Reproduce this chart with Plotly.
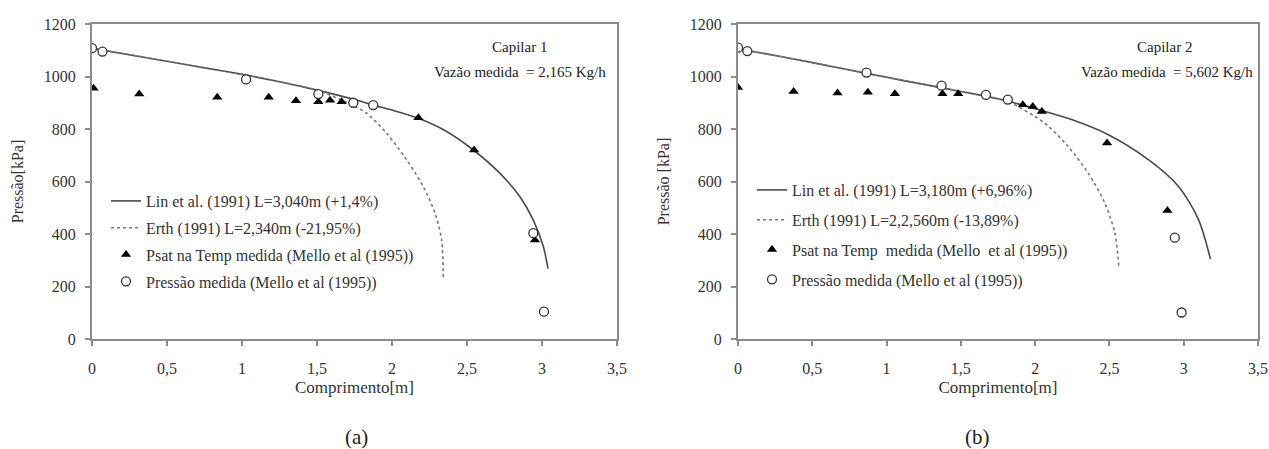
import plotly.graph_objects as go

# ---------------- data ----------------
x_ticks = [0, 0.5, 1, 1.5, 2, 2.5, 3, 3.5]
x_tick_labels = ["0", "0,5", "1", "1,5", "2", "2,5", "3", "3,5"]
y_ticks = [0, 200, 400, 600, 800, 1000, 1200]
y_tick_labels = ["0", "200", "400", "600", "800", "1000", "1200"]

series_names_a = [
    "Lin et al. (1991) L=3,040m (+1,4%)",
    "Erth (1991) L=2,340m (-21,95%)",
    "Psat na Temp medida (Mello et al (1995))",
    "Pressão medida (Mello et al (1995))",
]
series_names_b = [
    "Lin et al. (1991) L=3,180m (+6,96%)",
    "Erth (1991) L=2,2,560m (-13,89%)",
    "Psat na Temp  medida (Mello  et al (1995))",
    "Pressão medida (Mello et al (1995))",
]

# Panel (a) - Capilar 1
a_lin_x = [0, 0.25, 0.5, 0.75, 1.0, 1.25, 1.5, 1.75, 1.875, 2.0, 2.176, 2.35, 2.542, 2.72, 2.853, 2.942, 3.009, 3.04]
a_lin_y = [1107, 1083, 1058, 1033, 1008, 980, 948, 912, 891, 872, 841, 795, 720, 631, 542, 453, 352, 268]
a_erth_x = [0, 0.25, 0.5, 0.75, 1.0, 1.25, 1.5, 1.709, 1.831, 1.964, 2.098, 2.209, 2.287, 2.331, 2.342]
a_erth_y = [1107, 1083, 1058, 1033, 1008, 980, 948, 898, 860, 784, 682, 580, 479, 377, 225]
a_psat_x = [0.01, 0.315, 0.835, 1.178, 1.36, 1.509, 1.587, 1.664, 2.176, 2.547, 2.953]
a_psat_y = [955, 933, 921, 921, 908, 904, 910, 904, 843, 720, 377]
a_pres_x = [0.0, 0.07, 1.027, 1.509, 1.742, 1.875, 2.942, 3.013]
a_pres_y = [1108, 1095, 989, 933, 900, 891, 403, 104]

# Panel (b) - Capilar 2
b_lin_x = [0, 0.25, 0.5, 0.75, 1.0, 1.25, 1.5, 1.75, 2.04, 2.25, 2.49, 2.76, 2.964, 3.099, 3.18]
b_lin_y = [1105, 1080, 1053, 1025, 997, 970, 943, 915, 871, 835, 779, 684, 582, 456, 305]
b_erth_x = [0, 0.25, 0.5, 0.75, 1.0, 1.25, 1.5, 1.75, 1.838, 2.063, 2.221, 2.356, 2.468, 2.536, 2.563]
b_erth_y = [1105, 1080, 1053, 1025, 997, 970, 943, 915, 899, 823, 734, 633, 519, 405, 278]
b_psat_x = [0.0, 0.374, 0.67, 0.874, 1.056, 1.376, 1.482, 1.917, 1.984, 2.045, 2.484, 2.89]
b_psat_y = [958, 943, 937, 940, 934, 934, 934, 892, 886, 867, 747, 490]
b_pres_x = [0.0, 0.063, 0.865, 1.37, 1.669, 1.816, 2.94, 2.986]
b_pres_y = [1110, 1097, 1015, 965, 930, 912, 386, 101]

# ---------------- figure ----------------
FONT = "Liberation Serif"
TXT = "#333333"
AXC = "#8c8c8c"

fig = go.Figure()

def add_panel(xa, ya, leg, names, lin, erth, psat, pres):
    fig.add_trace(go.Scatter(x=lin[0], y=lin[1], mode="lines", name=names[0],
                             line=dict(color="#4a4a4a", width=1.6, shape="spline", smoothing=0.8),
                             xaxis=xa, yaxis=ya, legend=leg, legendgroup=leg + "1"))
    fig.add_trace(go.Scatter(x=erth[0], y=erth[1], mode="lines", name=names[1],
                             line=dict(color="#777777", width=1.6, dash="dot", shape="spline", smoothing=0.8),
                             xaxis=xa, yaxis=ya, legend=leg, legendgroup=leg + "2"))
    fig.add_trace(go.Scatter(x=psat[0], y=psat[1], mode="markers", name=names[2],
                             marker=dict(symbol="triangle-up", size=9, color="black"),
                             xaxis=xa, yaxis=ya, legend=leg, legendgroup=leg + "3"))
    fig.add_trace(go.Scatter(x=pres[0], y=pres[1], mode="markers", name=names[3],
                             marker=dict(symbol="circle", size=9, color="white",
                                         line=dict(color="#333333", width=1.3)),
                             xaxis=xa, yaxis=ya, legend=leg, legendgroup=leg + "4"))

add_panel("x", "y", "legend", series_names_a,
          (a_lin_x, a_lin_y), (a_erth_x, a_erth_y), (a_psat_x, a_psat_y), (a_pres_x, a_pres_y))
add_panel("x2", "y2", "legend2", series_names_b,
          (b_lin_x, b_lin_y), (b_erth_x, b_erth_y), (b_psat_x, b_psat_y), (b_pres_x, b_pres_y))

W, H = 1269, 449

def xaxis(dom, title):
    return dict(domain=dom, range=[0, 3.5], tickvals=x_ticks, ticktext=x_tick_labels,
                automargin=False,
                showgrid=False, zeroline=False, showline=True, linecolor=AXC, linewidth=2,
                mirror=True, ticks="outside", ticklen=5, tickcolor=AXC, tickwidth=1.5,
                tickfont=dict(family=FONT, size=16, color=TXT), ticklabelstandoff=9,
                title=dict(text=title, font=dict(family=FONT, size=17, color=TXT), standoff=5))

def yaxis(dom, anchor, title, standoff):
    return dict(domain=dom, range=[0, 1200], tickvals=y_ticks, ticktext=y_tick_labels,
                automargin=False,
                anchor=anchor, showgrid=False, zeroline=False, showline=True, linecolor=AXC,
                linewidth=2, mirror=True, ticks="outside", ticklen=5, tickcolor=AXC, tickwidth=1.5,
                tickfont=dict(family=FONT, size=16, color=TXT), ticklabelstandoff=6,
                title=dict(text=title, font=dict(family=FONT, size=16, color=TXT), standoff=standoff))

ydom = [1 - 339 / H, 1 - 24 / H]
fig.update_layout(
    width=W, height=H,
    margin=dict(l=0, r=0, t=0, b=0, autoexpand=False),
    paper_bgcolor="white", plot_bgcolor="white",
    xaxis=xaxis([92 / W, 617 / W], "Comprimento[m]"),
    yaxis=yaxis(ydom, "x", "Pressão[kPa]", 16),
    xaxis2=dict(xaxis([738 / W, 1258 / W], "Comprimento[m]"), anchor="y2"),
    yaxis2=yaxis(ydom, "x2", "Pressão [kPa]", 16),
    legend=dict(x=106 / W, y=1 - 184 / H, xanchor="left", yanchor="top",
                bgcolor="rgba(0,0,0,0)", font=dict(family=FONT, size=16, color=TXT),
                tracegroupgap=3, itemwidth=30),
    legend2=dict(x=752 / W, y=1 - 173 / H, xanchor="left", yanchor="top",
                 bgcolor="rgba(0,0,0,0)", font=dict(family=FONT, size=16, color=TXT),
                 tracegroupgap=6, itemwidth=30),
    showlegend=True,
)

ann = [
    dict(text="Capilar 1", x=519 / W, y=1 - 47 / H, size=15),
    dict(text="Vazão medida  = 2,165 Kg/h", x=520 / W, y=1 - 72 / H, size=15),
    dict(text="Capilar 2", x=1164 / W, y=1 - 47 / H, size=15),
    dict(text="Vazão medida  = 5,602 Kg/h", x=1167 / W, y=1 - 72 / H, size=15),
    dict(text="(a)", x=356 / W, y=1 - 437 / H, size=21),
    dict(text="(b)", x=977 / W, y=1 - 437 / H, size=21),
]
for a in ann:
    fig.add_annotation(text=a["text"], x=a["x"], y=a["y"], xref="paper", yref="paper",
                       xanchor="center", yanchor="middle", showarrow=False,
                       font=dict(family=FONT, size=a["size"], color="#222222"))

fig.write_html("out.html", config={"displayModeBar": False},
               post_script="document.body.style.margin='0';document.body.style.overflow='hidden';")
